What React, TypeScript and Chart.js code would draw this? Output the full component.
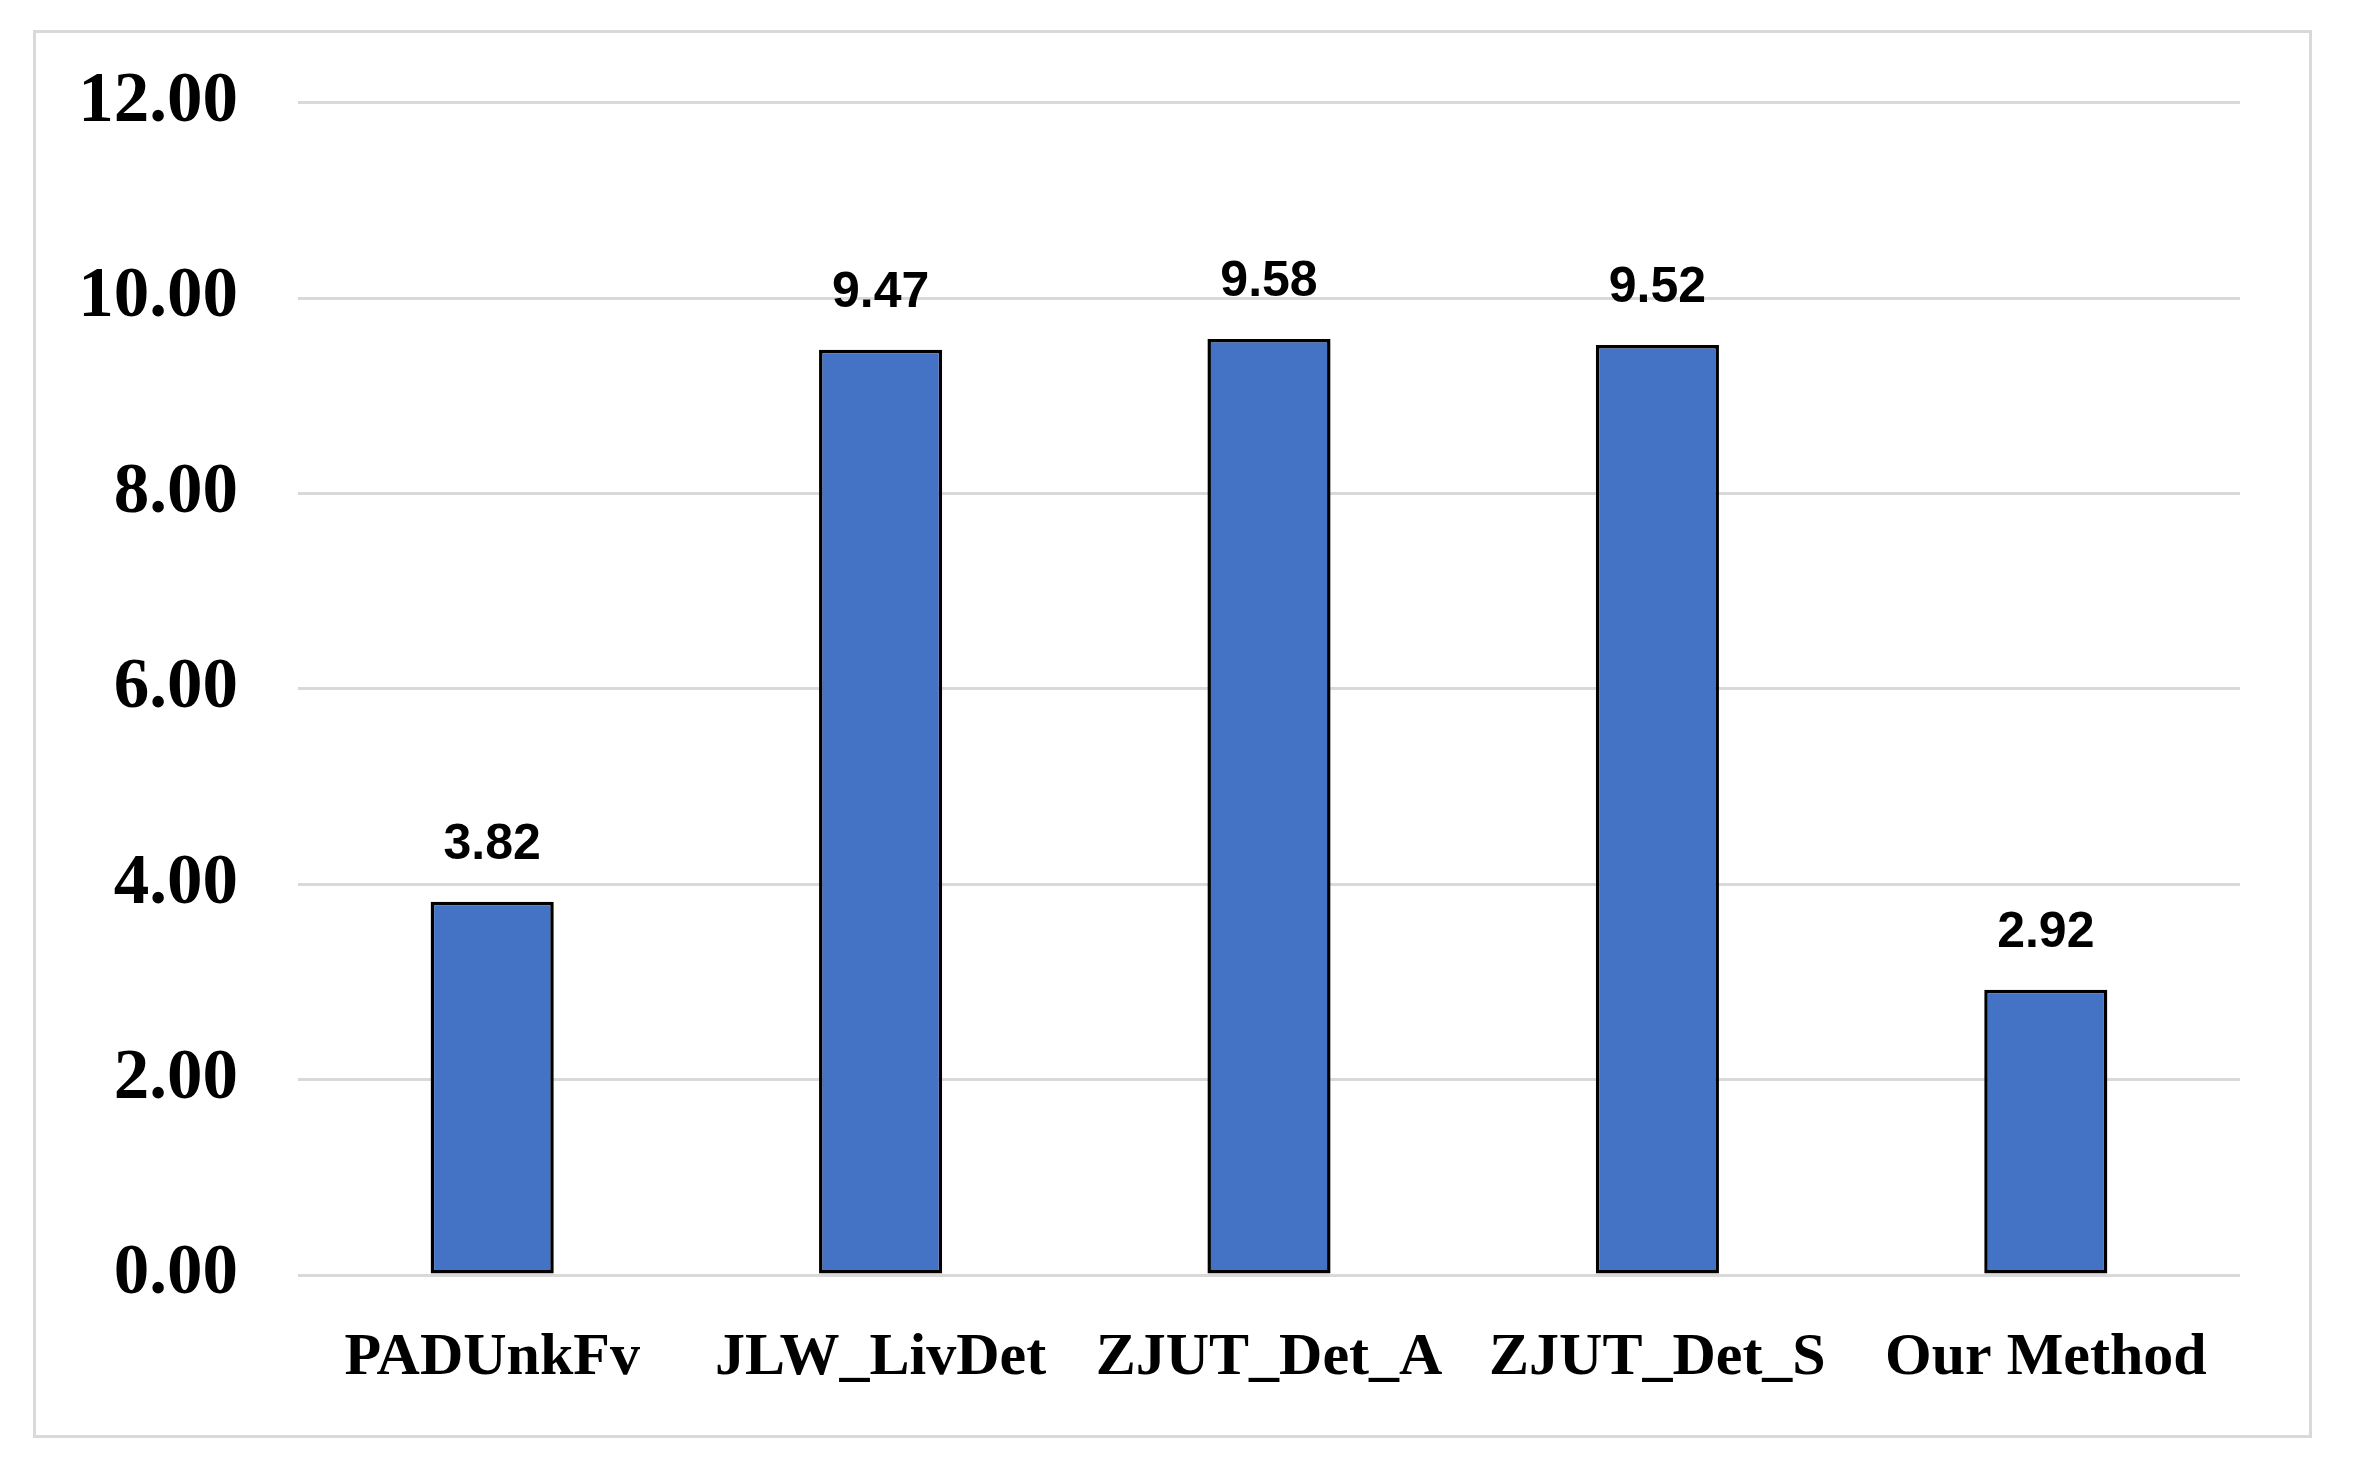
import React, { useEffect, useRef } from "react";
import { Chart, registerables } from "chart.js";

Chart.register(...registerables);

const categories = ["PADUnkFv", "JLW_LivDet", "ZJUT_Det_A", "ZJUT_Det_S", "Our Method"];
const values = [3.82, 9.47, 9.58, 9.52, 2.92];
const yMin = 0;
const yMax = 12;
const yStep = 2;

const W = 2360;
const H = 1472;

const framePlugin = {
  id: "frame",
  beforeDraw(chart: any) {
    const ctx = chart.ctx;
    ctx.save();
    ctx.fillStyle = "#ffffff";
    ctx.fillRect(0, 0, chart.width, chart.height);
    ctx.strokeStyle = "#d9d9d9";
    ctx.lineWidth = 3;
    ctx.strokeRect(34.5, 31.5, 2276, 1405);
    ctx.restore();
  },
};

const valueLabelPlugin = {
  id: "valueLabels",
  afterDatasetsDraw(chart: any) {
    const ctx = chart.ctx;
    const meta = chart.getDatasetMeta(0);
    ctx.save();
    ctx.font = "bold 50px 'Liberation Sans', Arial, sans-serif";
    ctx.fillStyle = "#000000";
    ctx.textAlign = "center";
    ctx.textBaseline = "alphabetic";
    meta.data.forEach((bar: any, i: number) => {
      ctx.fillText(values[i].toFixed(2), bar.x, bar.y - 43);
    });
    ctx.restore();
  },
};

export default function App() {
  const ref = useRef<HTMLCanvasElement | null>(null);
  useEffect(() => {
    if (!ref.current) return;
    const chart = new Chart(ref.current, {
      type: "bar",
      data: {
        labels: categories,
        datasets: [
          {
            data: values,
            backgroundColor: "#4472C4",
            borderColor: "#000000",
            borderWidth: 3.5,
            borderSkipped: false,
            categoryPercentage: 1,
            barPercentage: 0.317,
          },
        ],
      },
      options: {
        animation: false,
        responsive: false,
        devicePixelRatio: 1,
        layout: { padding: { left: 0, right: 120, top: 101, bottom: 47 } },
        plugins: { legend: { display: false }, tooltip: { enabled: false } },
        scales: {
          x: {
            grid: { display: false, drawTicks: false },
            border: { display: false },
            ticks: {
              padding: 47,
              color: "#000000",
              maxRotation: 0,
              font: { family: "'Liberation Serif', 'Times New Roman', serif", weight: "bold", size: 60 },
            },
            afterFit(scale: any) {
              scale.height = 150;
            },
          },
          y: {
            min: yMin,
            max: yMax,
            grid: { color: "#d9d9d9", lineWidth: 3, drawTicks: false },
            border: { display: false },
            ticks: {
              stepSize: yStep,
              padding: 60,
              color: "#000000",
              font: { family: "'Liberation Serif', 'Times New Roman', serif", weight: "bold", size: 71 },
              callback: (v: any) => Number(v).toFixed(2),
            },
            afterFit(scale: any) {
              scale.width = 298;
            },
          },
        },
      },
      plugins: [framePlugin, valueLabelPlugin],
    });
    return () => chart.destroy();
  }, []);
  return (
    <div style={{ position: "fixed", left: 0, top: 0, width: W, height: H, background: "#fff" }}>
      <canvas ref={ref} width={W} height={H} style={{ width: W, height: H, display: "block" }} />
    </div>
  );
}
